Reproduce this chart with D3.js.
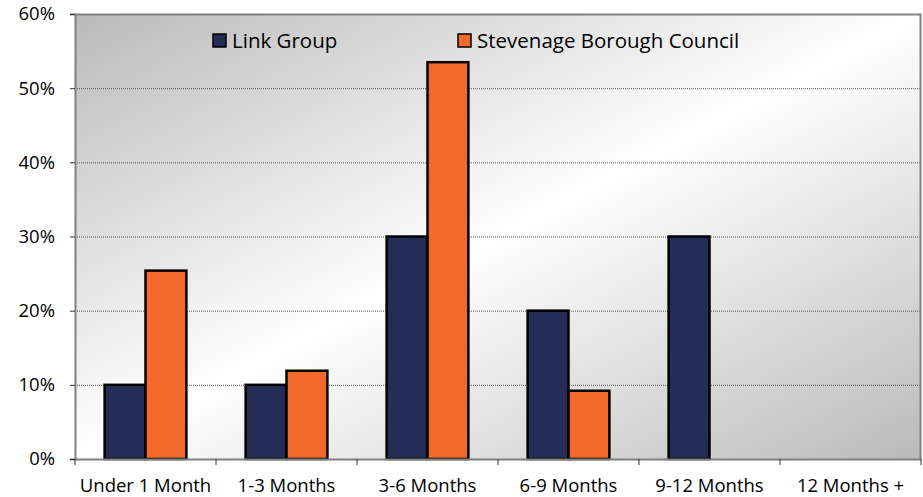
<!DOCTYPE html>
<html>
<head>
<meta charset="utf-8">
<script src="https://cdn.jsdelivr.net/npm/d3@7"></script>
<style>
	body { margin: 0; background: #fff; }
	text { font-family: "Open Sans", sans-serif; }
</style>
</head>
<body>
<script>
//chart data
var categories = ["Under 1 Month", "1-3 Months", "3-6 Months", "6-9 Months", "9-12 Months", "12 Months +"];
var seriesNames = ["Link Group", "Stevenage Borough Council"];
var linkGroup = [10, 10, 30, 20, 30, 0];
var stevenage = [25.4, 11.9, 53.5, 9.2, 0, 0];
var yTicks = [0, 10, 20, 30, 40, 50, 60];
var colors = ["#252d57", "#f2692b"];

var width = 923, height = 497;
var margin = {top: 14, right: 2, bottom: 38, left: 75};
var plotW = width - margin.left - margin.right;
var plotH = height - margin.top - margin.bottom;

var svg = d3.select("body").append("svg")
	.attr("width", width)
	.attr("height", height);

//background gradient of the plot area
var defs = svg.append("defs");
var grad = defs.append("linearGradient")
	.attr("id", "bg")
	.attr("x1", "0%").attr("y1", "0%")
	.attr("x2", "100%").attr("y2", "100%");
grad.append("stop").attr("offset", "0%").attr("stop-color", "#bababa");
grad.append("stop").attr("offset", "50%").attr("stop-color", "#ffffff");
grad.append("stop").attr("offset", "100%").attr("stop-color", "#bababa");

var canvas = svg.append("g")
	.attr("transform", "translate(" + margin.left + "," + margin.top + ")");

var x = d3.scaleBand()
	.domain(categories)
	.range([0, plotW])
	.paddingInner(0)
	.paddingOuter(0);

var xSub = d3.scaleBand()
	.domain([0, 1])
	.range([x.bandwidth() * 0.21, x.bandwidth() * 0.79]);

var y = d3.scaleLinear()
	.domain([0, 60])
	.range([plotH, 0]);

canvas.append("rect")
	.attr("width", plotW)
	.attr("height", plotH)
	.attr("fill", "url(#bg)");

//dotted gridlines
canvas.selectAll(".grid")
	.data(yTicks.slice(1, -1))
	.enter()
		.append("line")
		.attr("x1", 0)
		.attr("x2", plotW)
		.attr("y1", function(d) { return y(d) + 0.5; })
		.attr("y2", function(d) { return y(d) + 0.5; })
		.attr("stroke", "#555")
		.attr("stroke-width", 1)
		.attr("stroke-dasharray", "1,1");

//plot border (top and right)
canvas.append("path")
	.attr("d", "M0,0.5H" + (plotW - 0.5) + "V" + plotH)
	.attr("fill", "none")
	.attr("stroke", "#808080")
	.attr("stroke-width", 2);

//bars
var series = [linkGroup, stevenage];
series.forEach(function(vals, s)
{
	canvas.selectAll(".bar" + s)
		.data(vals)
		.enter()
			.filter(function(d) { return d > 0; })
			.append("rect")
			.attr("x", function(d, i) { return x(categories[i]) + xSub(s); })
			.attr("y", function(d) { return y(d); })
			.attr("width", xSub.bandwidth())
			.attr("height", function(d) { return plotH - y(d); })
			.attr("fill", colors[s])
			.attr("stroke", "#000")
			.attr("stroke-width", 2.5);
});

//axes
var yAxis = d3.axisLeft(y)
	.tickValues(yTicks)
	.tickSize(5)
	.tickPadding(15)
	.tickFormat(function(d) { return d + "%"; });

var gy = canvas.append("g").call(yAxis);
gy.select(".domain").attr("stroke", "#808080").attr("stroke-width", 2);
gy.selectAll(".tick line").attr("stroke", "#333");
gy.selectAll("text").attr("font-size", 18.5).attr("fill", "#000");

var xAxis = d3.axisBottom(x)
	.tickSize(0)
	.tickPadding(20);

var gx = canvas.append("g")
	.attr("transform", "translate(0," + plotH + ")")
	.call(xAxis);
gx.select(".domain").attr("stroke", "#808080").attr("stroke-width", 2);
gx.selectAll("text").attr("font-size", 18.5).attr("fill", "#000");

//tick marks between categories
gx.selectAll(".sep")
	.data(d3.range(categories.length + 1))
	.enter()
		.append("line")
		.attr("x1", function(d) { return d * x.step(); })
		.attr("x2", function(d) { return d * x.step(); })
		.attr("y1", 0)
		.attr("y2", 6)
		.attr("stroke", "#333");

//legend
var legendX = [138, 383];
var legend = canvas.selectAll(".legend")
	.data(seriesNames)
	.enter()
		.append("g")
		.attr("transform", function(d, i) { return "translate(" + legendX[i] + ",20)"; });
legend.append("rect")
	.attr("width", 13)
	.attr("height", 13)
	.attr("fill", function(d, i) { return colors[i]; })
	.attr("stroke", "#000")
	.attr("stroke-width", 1.5);
legend.append("text")
	.attr("x", 19)
	.attr("y", 14)
	.attr("font-size", 20.5)
	.text(function(d) { return d; });
</script>
</body>
</html>
